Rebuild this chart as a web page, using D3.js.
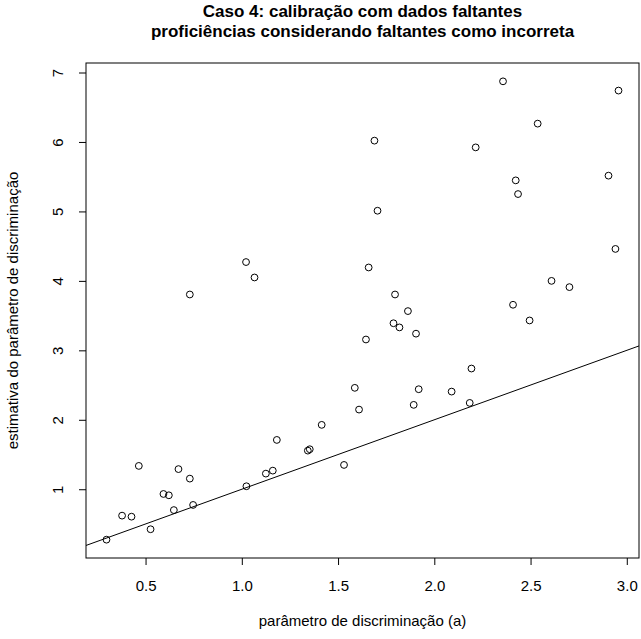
<!DOCTYPE html>
<html>
<head>
<meta charset="utf-8">
<script src="https://cdn.jsdelivr.net/npm/d3@7"></script>
<style>
  body { margin: 0; background: #fff; }
  svg { display: block; font-family: "Liberation Sans", Arial, Helvetica, sans-serif; }
</style>
</head>
<body>
<div id="chart"></div>
<script>
// true discrimination parameter (a)
const aTrue = [0.297, 0.378, 0.427, 0.465, 0.526, 0.593, 0.621, 0.647, 0.671, 0.730,
  0.747, 0.730, 1.022, 1.066, 1.024, 1.125, 1.161, 1.182, 1.343, 1.353,
  1.415, 1.531, 1.587, 1.609, 1.645, 1.659, 1.689, 1.705, 1.788, 1.796,
  1.819, 1.863, 1.905, 1.893, 1.919, 2.090, 2.184, 2.193, 2.215, 2.357,
  2.409, 2.423, 2.435, 2.495, 2.537, 2.609, 2.702, 2.905, 2.941, 2.957];

// estimated discrimination parameter
const aEst = [0.274, 0.620, 0.605, 1.336, 0.424, 0.932, 0.913, 0.700, 1.290, 1.153,
  0.774, 3.804, 4.271, 4.049, 1.043, 1.225, 1.268, 1.710, 1.556, 1.576,
  1.927, 1.350, 2.460, 2.147, 3.156, 4.193, 6.019, 5.010, 3.390, 3.804,
  3.330, 3.565, 3.240, 2.215, 2.440, 2.406, 2.243, 2.738, 5.922, 6.873,
  3.656, 5.447, 5.250, 3.430, 6.264, 4.000, 3.910, 5.515, 4.460, 6.740];

const xTicks = [0.5, 1.0, 1.5, 2.0, 2.5, 3.0];
const yTicks = [1, 2, 3, 4, 5, 6, 7];

const titleLines = ["Caso 4: calibração com dados faltantes",
  "proficiências considerando faltantes como incorreta"];

const width = 641, height = 639;
const box = { left: 86, right: 639, top: 63, bottom: 558 };
const fs = 15; // axis text size

// R-style 4% padding on each side
function padded(vals) {
  const [lo, hi] = d3.extent(vals);
  const d = (hi - lo) * 0.04;
  return [lo - d, hi + d];
}

const x = d3.scaleLinear().domain(padded(aTrue)).range([box.left, box.right]);
const y = d3.scaleLinear().domain(padded(aEst)).range([box.bottom, box.top]);

const svg = d3.select("#chart").append("svg")
  .attr("width", width)
  .attr("height", height);

svg.append("defs").append("clipPath").attr("id", "clip")
  .append("rect")
  .attr("x", box.left).attr("y", box.top)
  .attr("width", box.right - box.left).attr("height", box.bottom - box.top);

// axes
const xAxis = svg.append("g")
  .attr("transform", `translate(0,${box.bottom})`)
  .call(d3.axisBottom(x).tickValues(xTicks).tickFormat(d3.format(".1f")).tickSize(7).tickPadding(15));

const yAxis = svg.append("g")
  .attr("transform", `translate(${box.left},0)`)
  .call(d3.axisLeft(y).tickValues(yTicks).tickFormat(d3.format("d")).tickSize(7).tickPadding(0));

svg.selectAll(".domain").remove();
svg.selectAll(".tick line").attr("stroke", "#000");

xAxis.selectAll(".tick text")
  .attr("font-size", fs)
  .attr("fill", "#000");

// y tick labels are rotated, as in base R
yAxis.selectAll(".tick text")
  .attr("font-size", fs)
  .attr("fill", "#000")
  .attr("x", null).attr("dy", null)
  .attr("text-anchor", "middle")
  .attr("transform", "translate(-23,0) rotate(-90)");

// identity line
svg.append("line")
  .attr("clip-path", "url(#clip)")
  .attr("x1", x(x.domain()[0])).attr("y1", y(x.domain()[0]))
  .attr("x2", x(x.domain()[1])).attr("y2", y(x.domain()[1]))
  .attr("stroke", "#000")
  .attr("stroke-width", 1);

// points
svg.append("g")
  .selectAll("circle")
  .data(aTrue.map((d, i) => [d, aEst[i]]))
  .join("circle")
  .attr("cx", d => x(d[0]))
  .attr("cy", d => y(d[1]))
  .attr("r", 3.4)
  .attr("fill", "none")
  .attr("stroke", "#000")
  .attr("stroke-width", 1);

// plot box
svg.append("rect")
  .attr("x", box.left).attr("y", box.top)
  .attr("width", box.right - box.left).attr("height", box.bottom - box.top)
  .attr("fill", "none")
  .attr("stroke", "#000")
  .attr("stroke-width", 1);

const cx = (box.left + box.right) / 2;

svg.append("g")
  .selectAll("text")
  .data(titleLines)
  .join("text")
  .attr("x", cx)
  .attr("y", (d, i) => 17 + i * 19.5)
  .attr("text-anchor", "middle")
  .attr("font-size", 17)
  .attr("font-weight", "bold")
  .text(d => d);

svg.append("text")
  .attr("x", cx)
  .attr("y", 626)
  .attr("text-anchor", "middle")
  .attr("font-size", fs)
  .text("parâmetro de discriminação (a)");

svg.append("text")
  .attr("transform", `translate(18,${(box.top + box.bottom) / 2}) rotate(-90)`)
  .attr("text-anchor", "middle")
  .attr("font-size", fs)
  .text("estimativa do parâmetro de discriminação");
</script>
</body>
</html>
